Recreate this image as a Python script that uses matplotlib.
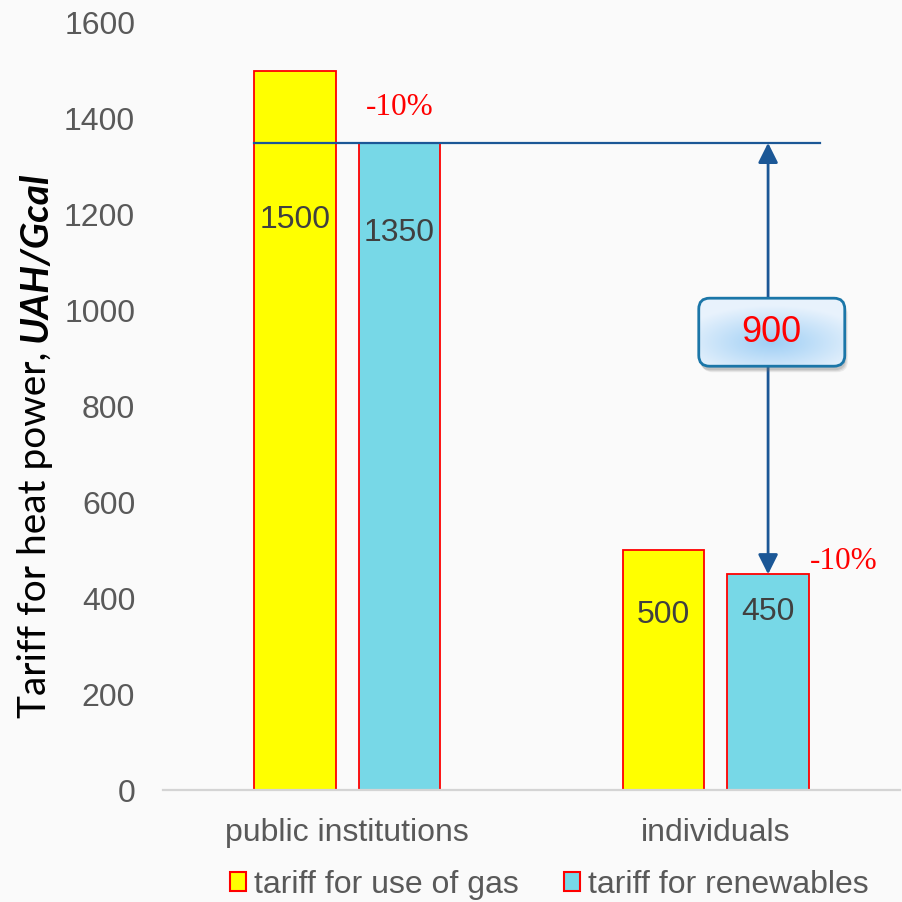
import matplotlib.pyplot as plt
import numpy as np
from matplotlib.patches import FancyBboxPatch, Patch

# data
categories = ['public institutions', 'individuals']
gas_tariff = [1500, 500]
renew_tariff = [1350, 450]
series_names = ['tariff for use of gas', 'tariff for renewables']
yticks = [0, 200, 400, 600, 800, 1000, 1200, 1400, 1600]
# heights where the value labels sit inside the bars
gas_label_y = [1190, 365]
renew_label_y = [1162, 372]
pct_text = '-10%'
diff_value = renew_tariff[0] - renew_tariff[1]

plt.rcParams['font.family'] = ['Liberation Sans', 'DejaVu Sans']

W = H = 902
fig = plt.figure(figsize=(W / 100, H / 100), dpi=100)
fig.patch.set_facecolor('#fafafa')
ax = fig.add_axes([163 / W, 1 - 790 / H, 737 / W, 767 / H])
ax.set_facecolor('none')

x = np.arange(len(categories))
w, off = 0.222, 0.142
gas_col, ren_col, edge = '#ffff00', '#77d8e7', '#ff0000'
line_col = '#1b5796'

ax.bar(x - off, gas_tariff, w, color=gas_col, edgecolor=edge, linewidth=1.3, zorder=2)
ax.bar(x + off, renew_tariff, w, color=ren_col, edgecolor=edge, linewidth=1.3, zorder=2)

for i in range(len(categories)):
    ax.text(x[i] - off, gas_label_y[i], str(gas_tariff[i]), ha='center', va='center',
            fontsize=23, color='#404040', zorder=3)
    ax.text(x[i] + off, renew_label_y[i], str(renew_tariff[i]), ha='center', va='center',
            fontsize=23, color='#404040', zorder=3)

ax.set_xlim(-0.5, 1.5)
ax.set_ylim(0, 1600)
ax.set_yticks(yticks)
ax.set_xticks(x)
ax.set_xticklabels(categories)
ax.tick_params(length=0, labelsize=23, colors='#595959', pad=20)
for s in ['top', 'right', 'left']:
    ax.spines[s].set_visible(False)
ax.spines['bottom'].set_color('#d4d4d4')
ax.spines['bottom'].set_linewidth(1.6)

# reference line at renewables tariff, and the difference arrow
ax.plot([x[0] - off - w / 2, x[1] + off + 0.14], [renew_tariff[0]] * 2,
        color=line_col, lw=1.6, zorder=4)
ax.annotate('', xy=(x[1] + off, renew_tariff[1]), xytext=(x[1] + off, renew_tariff[0]),
            arrowprops=dict(arrowstyle='<|-|>', color=line_col, lw=2,
                            mutation_scale=30, shrinkA=0, shrinkB=0), zorder=4)

# -10% notes
ax.text(x[0] + off, 1423, pct_text, ha='center', va='center', fontsize=22.5,
        color='#ff0000', family='Liberation Serif')
ax.text(x[1] + off + 0.205, 476, pct_text, ha='center', va='center', fontsize=22.5,
        color='#ff0000', family='Liberation Serif')

# rounded box with "900"
cx, cy = ax.transData.transform((x[1] + off + 0.01, 955))
bw, bh = 146, 68
bx0, by0 = (cx - bw / 2) / W, (cy - bh / 2) / H
for k, a in enumerate([0.12, 0.15, 0.2]):
    shadow = FancyBboxPatch((bx0 + (3 - k) / W, by0 - (6 - k) / H), bw / W, bh / H,
                            boxstyle='round,pad=0,rounding_size=0.012',
                            transform=fig.transFigure, facecolor='#707070',
                            edgecolor='none', alpha=a, zorder=5)
    ax.add_artist(shadow)
box = FancyBboxPatch((bx0, by0), bw / W, bh / H,
                     boxstyle='round,pad=0,rounding_size=0.012',
                     transform=fig.transFigure, facecolor='none', edgecolor='#1b76a8',
                     linewidth=2, zorder=7)
ax.add_artist(box)
gx, gy = np.meshgrid(np.linspace(-1, 1, 200), np.linspace(-1, 1, 100))
r = np.clip(np.sqrt(gx ** 2 + ((gy + 0.3) * 1.2) ** 2) / 1.3, 0, 1)
c_in = np.array([0.62, 0.81, 0.96])
c_out = np.array([0.91, 0.95, 0.99])
img = c_in[None, None, :] * (1 - r[..., None]) + c_out[None, None, :] * r[..., None]
inv = ax.transData.inverted()
(ex0, ey0) = inv.transform((cx - bw / 2, cy - bh / 2))
(ex1, ey1) = inv.transform((cx + bw / 2, cy + bh / 2))
im = ax.imshow(img, extent=(ex0, ex1, ey0, ey1), aspect='auto', zorder=6, origin='lower')
im.set_clip_path(box)
ax.set_xlim(-0.5, 1.5)
ax.set_ylim(0, 1600)
ax.text(x[1] + off + 0.01, 955, str(diff_value), ha='center', va='center', fontsize=26,
        color='#ff0000', zorder=8)

# y axis label: plain part + bold italic unit
t1 = fig.text(35 / W, 1 - 718 / H, 'Tariff for heat power, ', rotation=90, ha='center',
              va='bottom', fontsize=28, family='Lato', color='#000000')
fig.canvas.draw()
bb = t1.get_window_extent()
fig.text(35 / W, bb.y1 / H, 'UAH/Gcal', rotation=90, ha='center', va='bottom',
         fontsize=28, family='Lato', weight='bold', style='italic', color='#000000')

handles = [Patch(facecolor=gas_col, edgecolor=edge, linewidth=1.5),
           Patch(facecolor=ren_col, edgecolor=edge, linewidth=1.5)]
fig.legend(handles, series_names, loc='center', bbox_to_anchor=(0.609, 0.019), ncol=2,
           frameon=False, fontsize=23, labelcolor='#595959', handlelength=0.5,
           handleheight=0.5, handletextpad=0.25, columnspacing=1.4, borderpad=0)

fig.savefig('out.png', dpi=100, facecolor=fig.get_facecolor())
